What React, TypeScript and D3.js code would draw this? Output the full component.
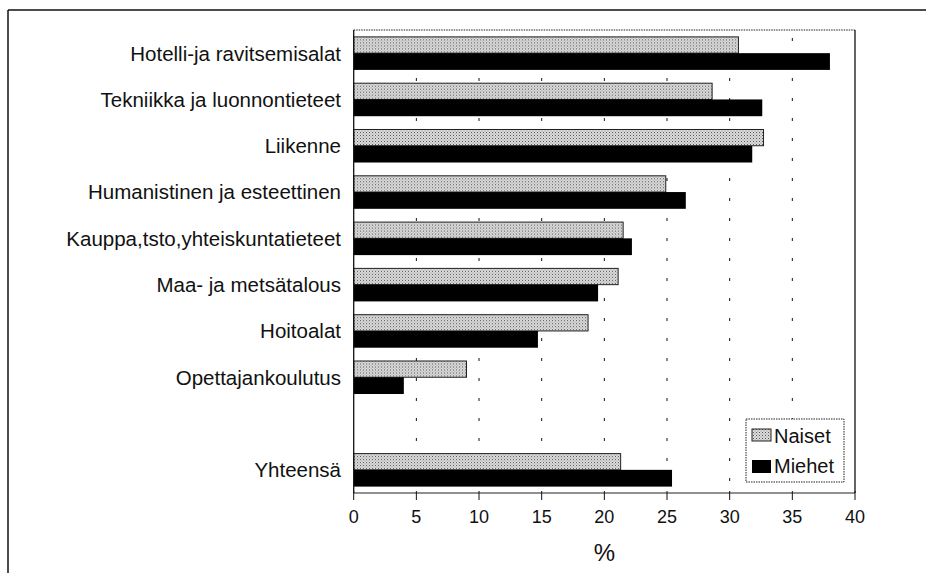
import React from "react";
import * as d3 from "d3";

const categories = [
  "Hotelli-ja ravitsemisalat",
  "Tekniikka ja luonnontieteet",
  "Liikenne",
  "Humanistinen ja esteettinen",
  "Kauppa,tsto,yhteiskuntatieteet",
  "Maa- ja metsätalous",
  "Hoitoalat",
  "Opettajankoulutus",
  "Yhteensä",
];
const naiset = [30.7, 28.6, 32.7, 24.9, 21.5, 21.1, 18.7, 9.0, 21.3];
const miehet = [38.0, 32.6, 31.8, 26.5, 22.2, 19.5, 14.7, 4.0, 25.4];
const seriesNames = ["Naiset", "Miehet"];
const xTicks = [0, 5, 10, 15, 20, 25, 30, 35, 40];
const xLabel = "%";

const W = 926;
const H = 573;
const FONT = "'Liberation Sans', Arial, Helvetica, sans-serif";

export default function App() {
  const x0 = 353.7, x1 = 855, yTop = 30, yBot = 493;
  const x = d3.scaleLinear().domain([0, 40]).range([x0, x1]);
  const slots = [...categories.slice(0, 8), "__gap__", categories[8]];
  const y = d3.scaleBand<string>().domain(slots).range([yTop, yBot]).paddingInner(0.276).paddingOuter(0.138);
  const ySub = d3.scaleBand<string>().domain(seriesNames).range([0, y.bandwidth()]);
  const data = categories.map((c, i) => ({ c, vals: [naiset[i], miehet[i]] }));

  return (
    <svg width={W} height={H} style={{ position: "absolute", left: 0, top: 0, background: "#fff" }} fontFamily={FONT}>
      <defs>
        <pattern id="dots" width="3" height="3" patternUnits="userSpaceOnUse">
          <rect width="3" height="3" fill="#dcdcdc" />
          <rect x="0" y="0" width="1" height="1" fill="#555" />
          <rect x="1.5" y="1.5" width="1" height="1" fill="#888" />
        </pattern>
      </defs>
      {/* outer frame */}
      <line x1={8} x2={W} y1={10} y2={10} stroke="#111" strokeWidth={1.5} />
      <line x1={8} x2={8} y1={10} y2={H} stroke="#111" strokeWidth={1.5} />

      {/* plot frame top dotted, right solid */}
      <line x1={x0} x2={x1} y1={yTop} y2={yTop} stroke="#222" strokeDasharray="1.5,1" strokeWidth={1} />
      <line x1={x1} x2={x1} y1={yTop} y2={yBot} stroke="#111" strokeWidth={1.3} />

      {/* gridlines */}
      {xTicks.filter((t) => t > 0 && t < 40).map((t) => (
        <line key={t} x1={x(t)} x2={x(t)} y1={yTop + 8} y2={yBot} stroke="#111" strokeWidth={1} strokeDasharray="3,17" />
      ))}

      {/* bars */}
      {data.map((d) => (
        <g key={d.c} transform={`translate(0,${y(d.c)})`}>
          {d.vals.map((v, j) => (
            <rect
              key={j}
              x={x(0)}
              y={ySub(seriesNames[j])! + (j === 0 ? 0.5 : 0)}
              width={x(v) - x(0)}
              height={ySub.bandwidth() - (j === 0 ? 0.5 : 0)}
              fill={j === 0 ? "url(#dots)" : "#000"}
              stroke={j === 0 ? "#222" : "none"}
              strokeWidth={1}
            />
          ))}
        </g>
      ))}

      {/* axes lines */}
      <line x1={x0} x2={x0} y1={yTop} y2={yBot} stroke="#111" strokeWidth={1.3} />
      <line x1={x0} x2={x1} y1={yBot} y2={yBot} stroke="#222" strokeWidth={1.2} />
      {xTicks.map((t) => (
        <g key={t}>
          <line x1={x(t)} x2={x(t)} y1={yBot - 2} y2={yBot + 7} stroke="#111" strokeWidth={1} />
          <text x={x(t)} y={523} textAnchor="middle" fontSize={18} fill="#111">{t}</text>
        </g>
      ))}
      <text x={(x0 + x1) / 2} y={561} textAnchor="middle" fontSize={24} fill="#111">{xLabel}</text>

      {/* category labels */}
      {categories.map((c) => (
        <text key={c} x={341} y={y(c)! + y.bandwidth() / 2} dy="0.36em" textAnchor="end" fontSize={20.5} fill="#111">{c}</text>
      ))}

      {/* legend */}
      <rect x={746} y={419} width={98} height={63} fill="#fff" stroke="#222" strokeDasharray="1.5,1" strokeWidth={1} />
      <rect x={752} y={429} width={19} height={12} fill="url(#dots)" stroke="#222" strokeWidth={1} />
      <rect x={752} y={460} width={19} height={13} fill="#000" />
      <text x={774} y={443} fontSize={20} fill="#111">{seriesNames[0]}</text>
      <text x={774} y={473} fontSize={20} fill="#111">{seriesNames[1]}</text>
    </svg>
  );
}
